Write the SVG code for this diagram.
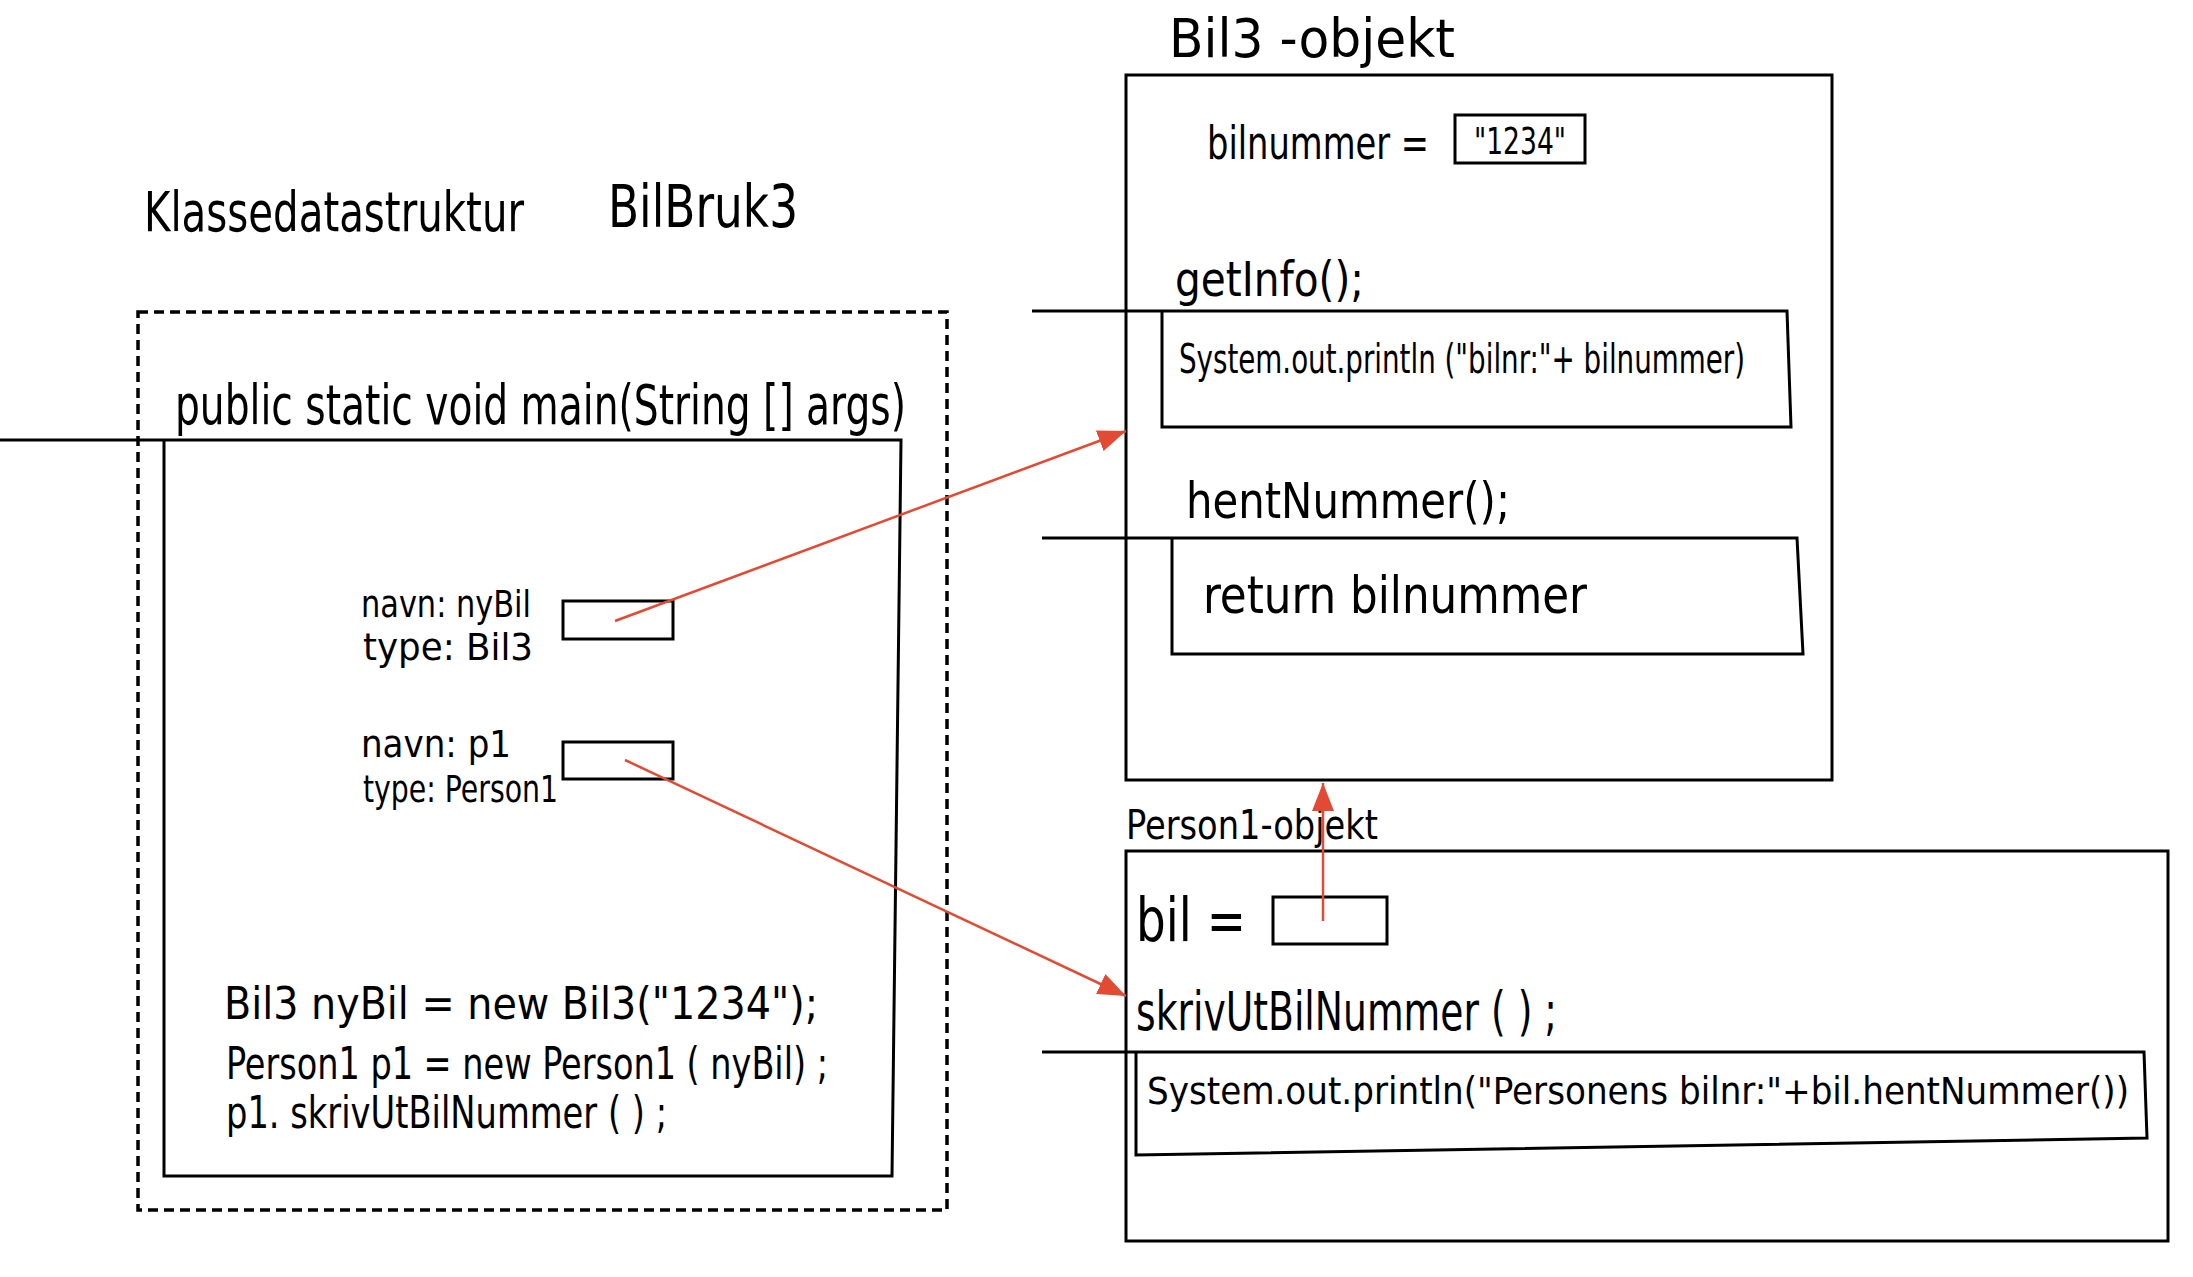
<svg xmlns="http://www.w3.org/2000/svg" width="2193" height="1277" viewBox="0 0 2193 1277">
<style>
  text { font-family: "Liberation Sans Narrow", "DejaVu Sans Condensed", "Liberation Sans", sans-serif; fill: #000; }
  .ln { fill: none; stroke: #000; stroke-width: 3; }
  .dash { fill: none; stroke: #000; stroke-width: 3.5; stroke-dasharray: 10 6; }
  .arr { fill: none; stroke: #E24A33; stroke-width: 2.5; }
</style>
<defs>
  <marker id="ah" markerUnits="userSpaceOnUse" markerWidth="30" markerHeight="24" refX="28" refY="11" orient="auto">
    <path d="M0,0 L28,11 L0,22 z" fill="#E24A33"/>
  </marker>
</defs>
<rect width="2193" height="1277" fill="#fff"/>

<g id="title">
  <text x="144" y="231" font-size="56" textLength="380" lengthAdjust="spacingAndGlyphs">Klassedatastruktur</text>
  <text x="608" y="227" font-size="58" textLength="190" lengthAdjust="spacingAndGlyphs">BilBruk3</text>
</g>

<g id="klassedatastruktur">
  <rect class="dash" x="138" y="312" width="809" height="898"/>
</g>

<g id="main-method">
  <text x="175" y="424" font-size="56" textLength="731" lengthAdjust="spacingAndGlyphs">public static void main(String [] args)</text>
  <path class="ln" d="M0,440 L901,440 L892,1176 L164,1176 L164,440"/>
</g>

<g id="var-nyBil">
  <text x="361" y="617" font-size="38" textLength="170" lengthAdjust="spacingAndGlyphs">navn: nyBil</text>
  <text x="363" y="660" font-size="38" textLength="170" lengthAdjust="spacingAndGlyphs">type: Bil3</text>
  <rect class="ln" x="563" y="601" width="110" height="38"/>
</g>

<g id="var-p1">
  <text x="361" y="757" font-size="38" textLength="150" lengthAdjust="spacingAndGlyphs">navn:  p1</text>
  <text x="363" y="802" font-size="38" textLength="195" lengthAdjust="spacingAndGlyphs">type:  Person1</text>
  <rect class="ln" x="563" y="742" width="110" height="37"/>
</g>

<g id="main-code">
  <text x="224" y="1019" font-size="44" textLength="594" lengthAdjust="spacingAndGlyphs">Bil3  nyBil = new   Bil3("1234");</text>
  <text x="226" y="1079" font-size="44" textLength="602" lengthAdjust="spacingAndGlyphs">Person1  p1 = new  Person1 ( nyBil) ;</text>
  <text x="226" y="1128" font-size="44" textLength="441" lengthAdjust="spacingAndGlyphs">p1. skrivUtBilNummer ( ) ;</text>
</g>

<g id="bil3-objekt">
  <text x="1169" y="57" font-size="54" textLength="286" lengthAdjust="spacingAndGlyphs">Bil3 -objekt</text>
  <rect class="ln" x="1126" y="75" width="706" height="705"/>
  <text x="1207" y="159" font-size="46" textLength="222" lengthAdjust="spacingAndGlyphs">bilnummer  =</text>
  <rect class="ln" x="1455" y="115" width="130" height="48"/>
  <text x="1474" y="154" font-size="38" textLength="92" lengthAdjust="spacingAndGlyphs">"1234"</text>
  <text x="1175" y="296" font-size="48" textLength="189" lengthAdjust="spacingAndGlyphs">getInfo();</text>
  <path class="ln" d="M1032,311 L1787,311 L1791,427 L1162,427 L1162,311"/>
  <text x="1179" y="373" font-size="40" textLength="566" lengthAdjust="spacingAndGlyphs">System.out.println ("bilnr:"+ bilnummer)</text>
  <text x="1186" y="518" font-size="50" textLength="324" lengthAdjust="spacingAndGlyphs">hentNummer();</text>
  <path class="ln" d="M1042,538 L1797,538 L1803,654 L1172,654 L1172,538"/>
  <text x="1203" y="613" font-size="52" textLength="384" lengthAdjust="spacingAndGlyphs">return   bilnummer</text>
</g>

<g id="person1-objekt">
  <text x="1126" y="839" font-size="40" textLength="252" lengthAdjust="spacingAndGlyphs">Person1-objekt</text>
  <rect class="ln" x="1126" y="851" width="1042" height="390"/>
  <text x="1136" y="941" font-size="60" textLength="110" lengthAdjust="spacingAndGlyphs">bil  =</text>
  <rect class="ln" x="1273" y="897" width="114" height="47"/>
  <text x="1136" y="1030" font-size="54" textLength="421" lengthAdjust="spacingAndGlyphs">skrivUtBilNummer ( ) ;</text>
  <path class="ln" d="M1042,1052 L2144,1052 L2147,1138 L1136,1155 L1136,1052"/>
  <text x="1147" y="1104" font-size="37" textLength="982" lengthAdjust="spacingAndGlyphs">System.out.println("Personens  bilnr:"+bil.hentNummer())</text>
</g>

<g id="connectors">
  <line class="arr" x1="615" y1="621" x2="1126" y2="431" marker-end="url(#ah)"/>
  <line class="arr" x1="625" y1="760" x2="1126" y2="996" marker-end="url(#ah)"/>
  <line class="arr" x1="1323" y1="921" x2="1323" y2="783" marker-end="url(#ah)"/>
</g>
</svg>
